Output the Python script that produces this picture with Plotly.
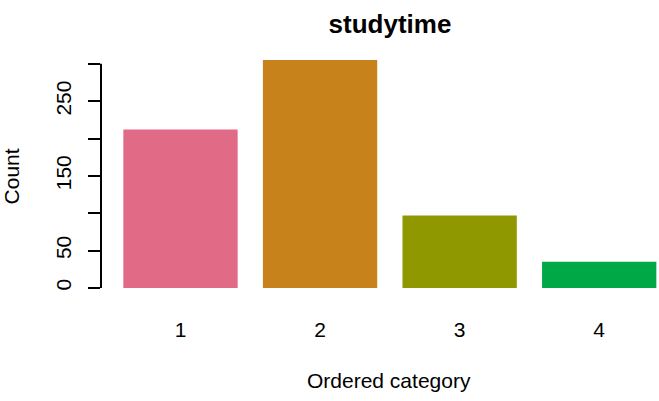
import plotly.graph_objects as go

categories = ["1", "2", "3", "4"]
counts = [212, 305, 97, 35]
colors = ["#E16A86", "#C7821C", "#909800", "#00A846"]
y_tickvals = [0, 50, 100, 150, 200, 250, 300]
y_ticktext = ["0", "50", "", "150", "", "250", ""]

W, H = 659, 401
left, right_px = 101, 659
top, bottom = 51, 297.4

xpos = [1, 2, 3, 4]
ymax = max(counts)

fig = go.Figure()
fig.add_trace(go.Bar(
    x=xpos, y=counts, width=0.819,
    marker=dict(color=colors, line=dict(width=0)),
    showlegend=False,
))

font_family = "Liberation Sans, Arial, Helvetica, sans-serif"

fig.update_layout(
    width=W, height=H,
    margin=dict(l=left, r=W - right_px, t=top, b=H - bottom, pad=0),
    plot_bgcolor="white", paper_bgcolor="white",
    font=dict(family=font_family, size=21, color="black"),
    title=dict(text="<b>studytime</b>", x=390 / W, xref="container", xanchor="center",
               y=1 - 24 / H, yref="container", yanchor="middle",
               font=dict(size=26, family=font_family, color="black")),
    xaxis=dict(range=[1 - (180.5 - left) / 139.57, 1 + (right_px - 180.5) / 139.57],
               tickvals=xpos, ticktext=categories, showline=False, showgrid=False,
               zeroline=False, ticks="", ticklabelstandoff=18,
               tickfont=dict(size=21)),
    yaxis=dict(range=[-0.04 * ymax, 1.04 * ymax], tickvals=y_tickvals, ticktext=y_ticktext,
               showline=False, showgrid=False, zeroline=False, ticks="outside",
               ticklen=12, tickwidth=2, tickcolor="black", tickangle=-90,
               ticklabelstandoff=9, tickfont=dict(size=21)),
    shapes=[dict(type="line", xref="paper", yref="y", x0=0, x1=0, y0=y_tickvals[0], y1=y_tickvals[-1],
                 line=dict(color="black", width=2))],
    annotations=[
        dict(text="Count", textangle=-90, xref="paper", yref="paper",
             x=(11 - left) / (right_px - left), y=0.49, xanchor="center", yanchor="middle",
             showarrow=False, font=dict(size=21)),
        dict(text="Ordered category", xref="paper", yref="paper",
             x=(389.2 - left) / (right_px - left), y=(bottom - 381) / (bottom - top),
             xanchor="center", yanchor="middle", showarrow=False, font=dict(size=21)),
    ],
)

fig.write_html("out.html", config={"displayModeBar": False},
               post_script="document.body.style.margin='0';")
